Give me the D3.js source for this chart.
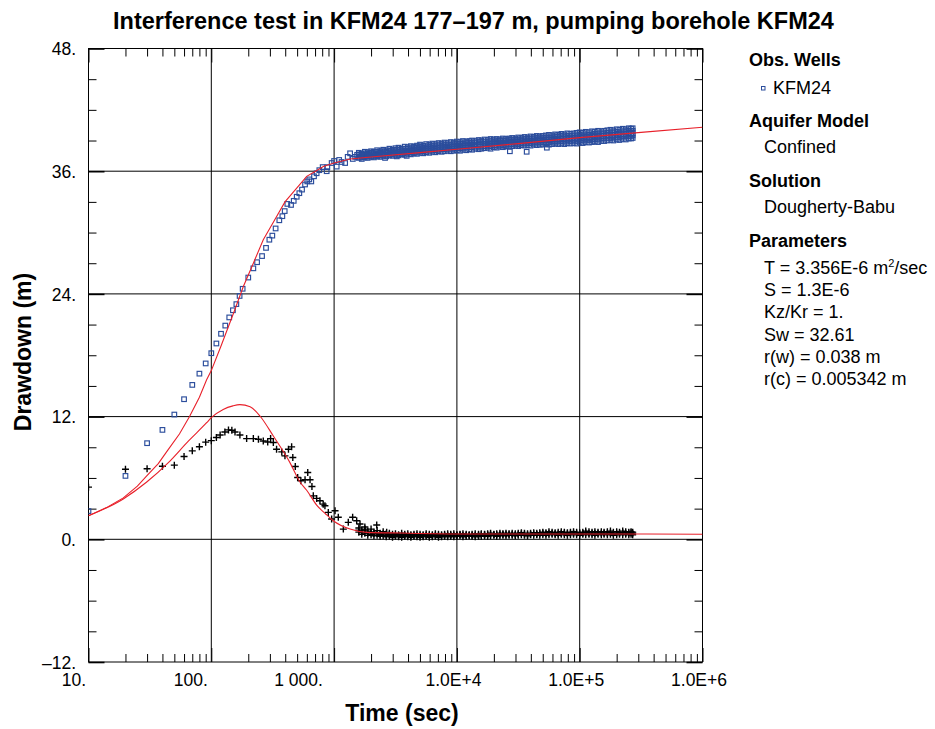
<!DOCTYPE html>
<html>
<head>
<meta charset="utf-8">
<script src="https://cdn.jsdelivr.net/npm/d3@7"></script>
<style>
  html, body { margin: 0; padding: 0; background: #fff; }
  svg { display: block; font-family: "Liberation Sans", Arial, sans-serif; }
</style>
</head>
<body>
<svg id="chart" width="935" height="729"></svg>
<script>
// ---------------- DATA ----------------
const xTickValues = [10, 100, 1000, 1e4, 1e5, 1e6];
const xTickLabels = ["10.", "100.", "1 000.", "1.0E+4", "1.0E+5", "1.0E+6"];
const yTickValues = [-12, 0, 12, 24, 36, 48];
const yTickLabels = ["\u201312.", "0.", "12.", "24.", "36.", "48."];

// Observation well KFM24 drawdown (blue squares), early/sparse part
const obsEarlyTime = [10, 20, 30, 40, 50, 60, 70, 80, 90, 100, 110, 120, 130, 140, 150, 160, 170, 180, 200, 220,
  236, 259, 279, 297, 314, 334, 358, 379, 396, 416, 446, 469, 496, 521, 548, 580, 605, 628, 652, 686,
  721, 758, 807, 870, 881, 955, 1000, 1050, 1100, 1150, 1230, 1290, 1350, 1420, 1485, 1540,
  2600, 3240, 3900, 27000, 37000, 54000];
const obsEarlyDrawdown = [2.76, 6.2, 9.4, 10.7, 12.2, 13.7, 15.1, 16.2, 17.2, 18.2, 19.15, 20.1, 20.9, 21.7, 22.4, 23.0, 23.8, 24.5, 25.6, 26.5,
  27.1, 27.7, 28.5, 29.3, 29.7, 30.4, 31.2, 31.6, 32.1, 32.8, 32.7, 33.1, 33.5, 33.85, 34.2, 34.7, 35.0, 35.2, 35.0, 35.5,
  35.8, 36.1, 36.4, 36.0, 36.4, 36.8, 37.0, 36.45, 37.1, 36.9, 36.8, 37.4, 37.75, 37.2, 37.4, 37.6,
  37.3, 37.45, 37.5, 37.95, 37.9, 38.3];

// Dense late-time records (shared time base)
const lateTime = [1590, 1680, 1780, 1880, 2000, 2110, 2240, 2370, 2510, 2660,
  2820, 2990, 3160, 3350, 3550, 3760, 3980, 4220, 4470, 4730,
  5010, 5310, 5620, 5960, 6310, 6680, 7080, 7500, 7940, 8410,
  8910, 9440, 10000, 10600, 11200, 11900, 12600, 13300, 14100, 15000,
  15800, 16800, 17800, 18800, 20000, 21100, 22400, 23700, 25100, 26600,
  28200, 29900, 31600, 33500, 35500, 37600, 39800, 42200, 44700, 47300,
  50100, 53100, 56200, 59600, 63100, 66800, 70800, 75000, 79400, 84100,
  89100, 94400, 100000, 106000, 112000, 119000, 126000, 133000, 141000, 150000,
  158000, 168000, 178000, 188000, 200000, 211000, 224000, 237000, 251000, 262000,
  270000];
const obsLateUpper = [37.8, 37.7, 37.9, 37.85, 37.95, 37.9, 38.05, 37.95, 38.1, 38.05,
  38.2, 38.1, 38.25, 38.3, 38.2, 38.4, 38.35, 38.45, 38.4, 38.5,
  38.6, 38.5, 38.65, 38.6, 38.7, 38.65, 38.75, 38.7, 38.8, 38.75,
  38.85, 38.8, 38.9, 38.85, 38.95, 38.9, 38.95, 39.0, 38.95, 39.05,
  39.0, 39.1, 39.05, 39.15, 39.1, 39.15, 39.1, 39.2, 39.15, 39.2,
  39.25, 39.2, 39.3, 39.25, 39.35, 39.3, 39.4, 39.35, 39.45, 39.4,
  39.45, 39.5, 39.55, 39.5, 39.6, 39.55, 39.65, 39.6, 39.7, 39.65,
  39.7, 39.75, 39.8, 39.75, 39.85, 39.8, 39.9, 39.85, 39.95, 39.9,
  39.95, 40.0, 40.05, 40.0, 40.1, 40.05, 40.15, 40.1, 40.2, 40.15,
  40.2];
const obsLateUpperMid = [37.65, 37.6, 37.75, 37.7, 37.8, 37.75, 37.9, 37.8, 37.95, 37.9,
  38.0, 37.95, 38.1, 38.1, 38.05, 38.2, 38.2, 38.25, 38.25, 38.3,
  38.4, 38.3, 38.45, 38.4, 38.5, 38.45, 38.55, 38.5, 38.6, 38.55,
  38.6, 38.65, 38.65, 38.7, 38.7, 38.75, 38.75, 38.8, 38.8, 38.85,
  38.85, 38.9, 38.85, 38.95, 38.9, 38.95, 38.95, 39.0, 39.0, 39.05,
  39.05, 39.05, 39.1, 39.1, 39.15, 39.15, 39.2, 39.2, 39.25, 39.2,
  39.25, 39.3, 39.3, 39.3, 39.4, 39.35, 39.45, 39.4, 39.45, 39.45,
  39.5, 39.5, 39.55, 39.5, 39.6, 39.55, 39.6, 39.65, 39.7, 39.7,
  39.7, 39.75, 39.8, 39.8, 39.85, 39.8, 39.9, 39.9, 39.95, 39.9,
  39.95];
const obsLateMid = [37.55, 37.5, 37.6, 37.6, 37.65, 37.65, 37.7, 37.7, 37.75, 37.8,
  37.85, 37.8, 37.95, 37.9, 37.95, 38.0, 38.0, 38.05, 38.1, 38.1,
  38.15, 38.1, 38.25, 38.2, 38.3, 38.25, 38.3, 38.35, 38.35, 38.4,
  38.4, 38.45, 38.45, 38.5, 38.5, 38.55, 38.55, 38.6, 38.6, 38.6,
  38.65, 38.65, 38.7, 38.7, 38.75, 38.75, 38.8, 38.75, 38.8, 38.85,
  38.85, 38.9, 38.9, 38.95, 38.9, 39.0, 38.95, 39.0, 39.05, 39.0,
  39.05, 39.1, 39.05, 39.1, 39.15, 39.1, 39.2, 39.15, 39.2, 39.2,
  39.25, 39.2, 39.3, 39.25, 39.35, 39.3, 39.35, 39.4, 39.4, 39.45,
  39.45, 39.5, 39.5, 39.55, 39.55, 39.6, 39.6, 39.65, 39.7, 39.65,
  39.7];
const obsLateLowerMid = [37.4, 37.35, 37.5, 37.45, 37.5, 37.5, 37.55, 37.55, 37.6, 37.6,
  37.7, 37.65, 37.75, 37.7, 37.8, 37.8, 37.85, 37.85, 37.9, 37.9,
  37.95, 37.95, 38.05, 38.0, 38.1, 38.05, 38.1, 38.15, 38.15, 38.2,
  38.2, 38.2, 38.25, 38.25, 38.3, 38.3, 38.35, 38.35, 38.4, 38.4,
  38.4, 38.45, 38.5, 38.45, 38.55, 38.5, 38.6, 38.55, 38.6, 38.6,
  38.65, 38.7, 38.65, 38.75, 38.7, 38.75, 38.75, 38.8, 38.8, 38.8,
  38.85, 38.85, 38.85, 38.9, 38.9, 38.9, 38.95, 38.9, 39.0, 38.95,
  39.0, 38.95, 39.05, 39.0, 39.1, 39.05, 39.1, 39.15, 39.1, 39.2,
  39.2, 39.25, 39.25, 39.3, 39.3, 39.35, 39.4, 39.4, 39.45, 39.45,
  39.5];
const obsLateLower = [37.3, 37.2, 37.35, 37.3, 37.4, 37.35, 37.45, 37.4, 37.5, 37.45,
  37.55, 37.5, 37.6, 37.55, 37.65, 37.6, 37.7, 37.65, 37.75, 37.7,
  37.8, 37.75, 37.85, 37.8, 37.9, 37.85, 37.95, 37.9, 37.95, 38.0,
  37.95, 38.0, 38.05, 38.0, 38.1, 38.05, 38.15, 38.1, 38.2, 38.15,
  38.2, 38.25, 38.3, 38.2, 38.35, 38.3, 38.4, 38.35, 38.45, 38.4,
  38.45, 38.5, 38.45, 38.55, 38.5, 38.55, 38.5, 38.6, 38.55, 38.6,
  38.6, 38.65, 38.6, 38.65, 38.7, 38.65, 38.7, 38.65, 38.75, 38.7,
  38.75, 38.7, 38.8, 38.75, 38.85, 38.8, 38.85, 38.9, 38.85, 38.95,
  38.95, 39.0, 39.05, 39.0, 39.1, 39.05, 39.15, 39.1, 39.2, 39.2,
  39.25];

// Derivative of observed drawdown (black pluses)
const derivEarlyTime = [10, 20, 30, 40, 50, 60, 70, 80, 90, 100, 110, 118, 129, 138, 147, 156, 171, 194, 220, 242,
  265, 288, 304, 320, 340, 375, 398, 425, 451, 461, 483, 505, 536, 580, 610, 637, 660, 677, 721, 767,
  815, 842, 897, 955, 1018, 1082, 1189, 1305, 1416, 1527, 1625, 1786, 2224, 2680];
const derivEarlyValue = [5.1, 6.85, 6.9, 7.15, 7.25, 8.1, 8.65, 9.05, 9.5, 9.65, 9.95, 10.2, 10.5, 10.7, 10.66, 10.5, 10.2, 9.85, 9.85, 9.78,
  9.62, 9.52, 9.85, 9.46, 8.8, 8.55, 8.16, 8.8, 9.04, 8.0, 7.12, 6.05, 5.72, 5.82, 6.53, 5.82, 5.17, 4.25, 4.0, 3.77,
  3.44, 3.28, 2.63, 1.98, 2.79, 2.15, 1.0, 1.66, 2.15, 1.82, 1.49, 1.0, 1.4, 0.68];
const derivLateA = [1.1, 0.9, 1.2, 0.8, 1.0, 0.7, 0.85, 0.6, 0.75, 0.55,
  0.6, 0.5, 0.55, 0.45, 0.6, 0.5, 0.55, 0.45, 0.5, 0.55,
  0.5, 0.45, 0.55, 0.5, 0.45, 0.55, 0.5, 0.45, 0.5, 0.55,
  0.5, 0.55, 0.45, 0.5, 0.55, 0.5, 0.45, 0.5, 0.55, 0.5,
  0.55, 0.5, 0.55, 0.6, 0.5, 0.55, 0.6, 0.55, 0.6, 0.55,
  0.6, 0.55, 0.6, 0.65, 0.6, 0.55, 0.6, 0.65, 0.6, 0.65,
  0.7, 0.65, 0.75, 0.7, 0.65, 0.7, 0.75, 0.7, 0.65, 0.7,
  0.75, 0.7, 0.65, 0.7, 0.8, 0.75, 0.7, 0.75, 0.7, 0.75,
  0.7, 0.75, 0.8, 0.7, 0.75, 0.7, 0.8, 0.75, 0.7, 0.75,
  0.7];
const derivLateMid = [0.9, 0.7, 0.9, 0.6, 0.7, 0.55, 0.6, 0.45, 0.55, 0.4,
  0.45, 0.35, 0.4, 0.35, 0.4, 0.4, 0.4, 0.35, 0.4, 0.4,
  0.35, 0.35, 0.4, 0.35, 0.35, 0.4, 0.35, 0.35, 0.4, 0.4,
  0.4, 0.4, 0.4, 0.45, 0.4, 0.4, 0.4, 0.4, 0.4, 0.4,
  0.45, 0.45, 0.45, 0.5, 0.45, 0.45, 0.5, 0.5, 0.5, 0.5,
  0.5, 0.45, 0.5, 0.55, 0.5, 0.45, 0.5, 0.55, 0.5, 0.55,
  0.6, 0.55, 0.6, 0.6, 0.55, 0.55, 0.6, 0.6, 0.55, 0.6,
  0.6, 0.6, 0.55, 0.6, 0.65, 0.6, 0.6, 0.6, 0.6, 0.6,
  0.6, 0.6, 0.65, 0.55, 0.6, 0.6, 0.65, 0.6, 0.6, 0.65,
  0.6];
const derivLateB = [0.7, 0.5, 0.6, 0.4, 0.45, 0.35, 0.4, 0.3, 0.35, 0.25,
  0.3, 0.2, 0.3, 0.25, 0.2, 0.3, 0.25, 0.2, 0.3, 0.25,
  0.2, 0.25, 0.3, 0.2, 0.25, 0.3, 0.2, 0.25, 0.3, 0.25,
  0.3, 0.25, 0.3, 0.35, 0.25, 0.3, 0.35, 0.3, 0.25, 0.3,
  0.3, 0.35, 0.3, 0.35, 0.4, 0.3, 0.35, 0.4, 0.35, 0.4,
  0.4, 0.35, 0.4, 0.45, 0.4, 0.35, 0.45, 0.4, 0.45, 0.4,
  0.45, 0.4, 0.45, 0.5, 0.45, 0.4, 0.5, 0.45, 0.4, 0.45,
  0.5, 0.45, 0.4, 0.5, 0.45, 0.5, 0.45, 0.4, 0.5, 0.45,
  0.5, 0.45, 0.5, 0.4, 0.45, 0.5, 0.45, 0.5, 0.45, 0.5,
  0.45];

// Dougherty-Babu model curve (red) and its derivative (red)
const modelTime = [10, 14, 19.2, 25, 29.8, 37, 44.7, 55, 66.5, 80, 91.6, 100, 120, 156, 182, 220, 265, 320, 398, 500,
  598, 700, 817, 1000, 1350, 2000, 5000, 10000, 31600, 100000, 316000, 1000000];
const modelDrawdown = [2.3, 3.1, 4.05, 5.2, 6.2, 7.4, 8.8, 10.3, 12.0, 13.9, 15.6, 16.5, 18.9, 22.5, 24.7, 27.0, 29.3, 31.0, 33.0, 34.4,
  35.5, 35.98, 36.45, 36.8, 37.2, 37.39, 37.82, 38.15, 38.7, 39.28, 39.8, 40.3];
const modelDerivTime = [10, 19.2, 29.8, 44.7, 65, 91.6, 100, 125, 150, 171, 207, 249, 320, 437, 527, 598, 721, 850, 984, 1350,
  1845, 3445, 12000, 100000, 1000000];
const modelDerivative = [2.3, 3.95, 5.6, 7.5, 9.6, 11.4, 11.9, 12.7, 13.05, 13.17, 12.97, 12.06, 10.1, 7.5, 5.6, 4.8, 3.35, 2.5, 1.82, 1.0,
  0.68, 0.61, 0.52, 0.52, 0.5];

const legendHeads = ["Obs. Wells", "Aquifer Model", "Solution", "Parameters"];
const legendWell = "KFM24";
const legendModel = "Confined";
const legendSolution = "Dougherty-Babu";
const legendParams = ["T = 3.356E-6 m\u00b2/sec", "S = 1.3E-6", "Kz/Kr = 1.", "Sw = 32.61", "r(w) = 0.038 m", "r(c) = 0.005342 m"];

// ---------------- LAYOUT ----------------
const svg = d3.select("#chart");
const L = 88.5, R = 702.5, T = 48.5, B = 662;
const x = d3.scaleLog().domain([10, 1e6]).range([L, R]);
const y = d3.scaleLinear().domain([-12, 48]).range([B, T]);
const xLabelShift = [-15, -21, -36, -4, -4, -4];
const FONT = "Liberation Sans, Arial, sans-serif";
const BLUE = "#2b4d9c", RED = "#e8202a";

svg.append("defs").append("clipPath").attr("id", "plotclip")
  .append("rect").attr("x", L).attr("y", T).attr("width", R - L).attr("height", B - T);

const xMinor = [];
for (let d = 10; d < 1e6; d *= 10) for (let k = 2; k <= 9; k++) xMinor.push(d * k);
const yMinor = d3.range(-12, 48.01, 3).filter(v => !yTickValues.includes(v));

// grid lines
const grid = svg.append("g");
grid.selectAll(".gx").data(xTickValues.slice(1, -1)).join("line")
  .attr("x1", d => x(d)).attr("x2", d => x(d)).attr("y1", T).attr("y2", B)
  .attr("stroke", "#000").attr("stroke-width", 1);
grid.selectAll(".gy").data(yTickValues.slice(1, -1)).join("line")
  .attr("x1", L).attr("x2", R).attr("y1", d => y(d)).attr("y2", d => y(d))
  .attr("stroke", "#000").attr("stroke-width", 1);

function styleAxis(g) {
  g.select(".domain").remove();
  g.selectAll(".tick line").attr("stroke", "#000");
}
const axB = svg.append("g").attr("transform", `translate(0,${B})`)
  .call(d3.axisBottom(x).tickValues(xMinor).tickSize(-8).tickFormat(""));
styleAxis(axB);
const axBM = svg.append("g").attr("transform", `translate(0,${B})`)
  .call(d3.axisBottom(x).tickValues(xTickValues).tickSize(-14).tickPadding(12)
    .tickFormat((d, i) => xTickLabels[i]));
styleAxis(axBM);
axBM.selectAll("text").style("font-size", "17.5px").style("font-family", FONT).attr("fill", "#000")
  .attr("dx", (d, i) => xLabelShift[i]);

const axT = svg.append("g").attr("transform", `translate(0,${T})`)
  .call(d3.axisTop(x).tickValues(xMinor).tickSize(-8).tickFormat(""));
styleAxis(axT);
const axTM = svg.append("g").attr("transform", `translate(0,${T})`)
  .call(d3.axisTop(x).tickValues(xTickValues).tickSize(-14).tickFormat(""));
styleAxis(axTM);

const axL = svg.append("g").attr("transform", `translate(${L},0)`)
  .call(d3.axisLeft(y).tickValues(yMinor).tickSize(-8).tickFormat(""));
styleAxis(axL);
const axLM = svg.append("g").attr("transform", `translate(${L},0)`)
  .call(d3.axisLeft(y).tickValues(yTickValues).tickSize(-16).tickPadding(12.5)
    .tickFormat((d, i) => yTickLabels[i]));
styleAxis(axLM);
axLM.selectAll(".tick line").attr("stroke-width", 1.6);
axLM.selectAll("text").style("font-size", "17.5px").style("font-family", FONT).attr("fill", "#000")
  .attr("dy", "0.36em");

const axR = svg.append("g").attr("transform", `translate(${R},0)`)
  .call(d3.axisRight(y).tickValues(yMinor).tickSize(-8).tickFormat(""));
styleAxis(axR);
const axRM = svg.append("g").attr("transform", `translate(${R},0)`)
  .call(d3.axisRight(y).tickValues(yTickValues).tickSize(-16).tickFormat(""));
styleAxis(axRM);
axRM.selectAll(".tick line").attr("stroke-width", 1.6);

svg.append("rect").attr("x", L).attr("y", T).attr("width", R - L).attr("height", B - T)
  .attr("fill", "none").attr("stroke", "#000").attr("stroke-width", 1);

// data layer
const plot = svg.append("g").attr("clip-path", "url(#plotclip)");
function pts(ts, vs) { return ts.map((t, i) => ({ t, v: vs[i] })); }
const obsPoints = [].concat(pts(obsEarlyTime, obsEarlyDrawdown), pts(lateTime, obsLateUpper),
  pts(lateTime, obsLateUpperMid), pts(lateTime, obsLateMid), pts(lateTime, obsLateLowerMid), pts(lateTime, obsLateLower));
const derivPoints = [].concat(pts(derivEarlyTime, derivEarlyValue), pts(lateTime, derivLateA),
  pts(lateTime, derivLateMid), pts(lateTime, derivLateB));

const ps = 3.5;
plot.append("g").selectAll("path").data(derivPoints).join("path")
  .attr("d", d => {
    const cx = x(d.t), cy = y(d.v);
    return `M${cx - ps},${cy}H${cx + ps}M${cx},${cy - ps}V${cy + ps}`;
  })
  .attr("stroke", "#000").attr("stroke-width", 1.4).attr("fill", "none");

const sq = 4.6;
plot.append("g").selectAll("rect").data(obsPoints).join("rect")
  .attr("x", d => x(d.t) - sq / 2).attr("y", d => y(d.v) - sq / 2)
  .attr("width", sq).attr("height", sq)
  .attr("fill", "none").attr("stroke", BLUE).attr("stroke-width", 1.15);

plot.append("path").datum(pts(modelTime, modelDrawdown))
  .attr("d", d3.line().x(d => x(d.t)).y(d => y(d.v)))
  .attr("fill", "none").attr("stroke", RED).attr("stroke-width", 1.1);
plot.append("path").datum(pts(modelDerivTime, modelDerivative))
  .attr("d", d3.line().x(d => x(d.t)).y(d => y(d.v)).curve(d3.curveMonotoneX))
  .attr("fill", "none").attr("stroke", RED).attr("stroke-width", 1.1);

// title
svg.append("text").attr("x", 113).attr("y", 28.5)
  .style("font-size", "23.5px").attr("font-weight", "bold")
  .text("Interference test in KFM24 177\u2013197 m, pumping borehole KFM24");

// axis titles
svg.append("text").attr("x", 402).attr("y", 721).attr("text-anchor", "middle")
  .style("font-size", "23px").attr("font-weight", "bold").text("Time (sec)");
svg.append("text").attr("transform", `translate(30.5,352) rotate(-90)`).attr("text-anchor", "middle")
  .style("font-size", "23px").attr("font-weight", "bold").text("Drawdown (m)");

// legend
const lg = svg.append("g").style("font-size", "18px");
const headY = [66, 127, 187, 247];
legendHeads.forEach((h, i) => lg.append("text").attr("x", 749).attr("y", headY[i]).attr("font-weight", "bold").text(h));
lg.append("rect").attr("x", 761.5).attr("y", 86.5).attr("width", 3.5).attr("height", 3.5)
  .attr("fill", "none").attr("stroke", BLUE).attr("stroke-width", 1);
lg.append("text").attr("x", 773).attr("y", 94).text(legendWell);
lg.append("text").attr("x", 764).attr("y", 153).text(legendModel);
lg.append("text").attr("x", 764).attr("y", 213).text(legendSolution);
legendParams.forEach((s, i) => {
  const t = lg.append("text").attr("x", 764).attr("y", 274 + i * 22.2);
  if (s.includes("\u00b2")) {
    const parts = s.split("\u00b2");
    t.append("tspan").text(parts[0]);
    t.append("tspan").style("font-size", "11px").attr("dy", -7).text("2");
    t.append("tspan").attr("dy", 7).text(parts[1]);
  } else t.text(s);
});
</script>
</body>
</html>
